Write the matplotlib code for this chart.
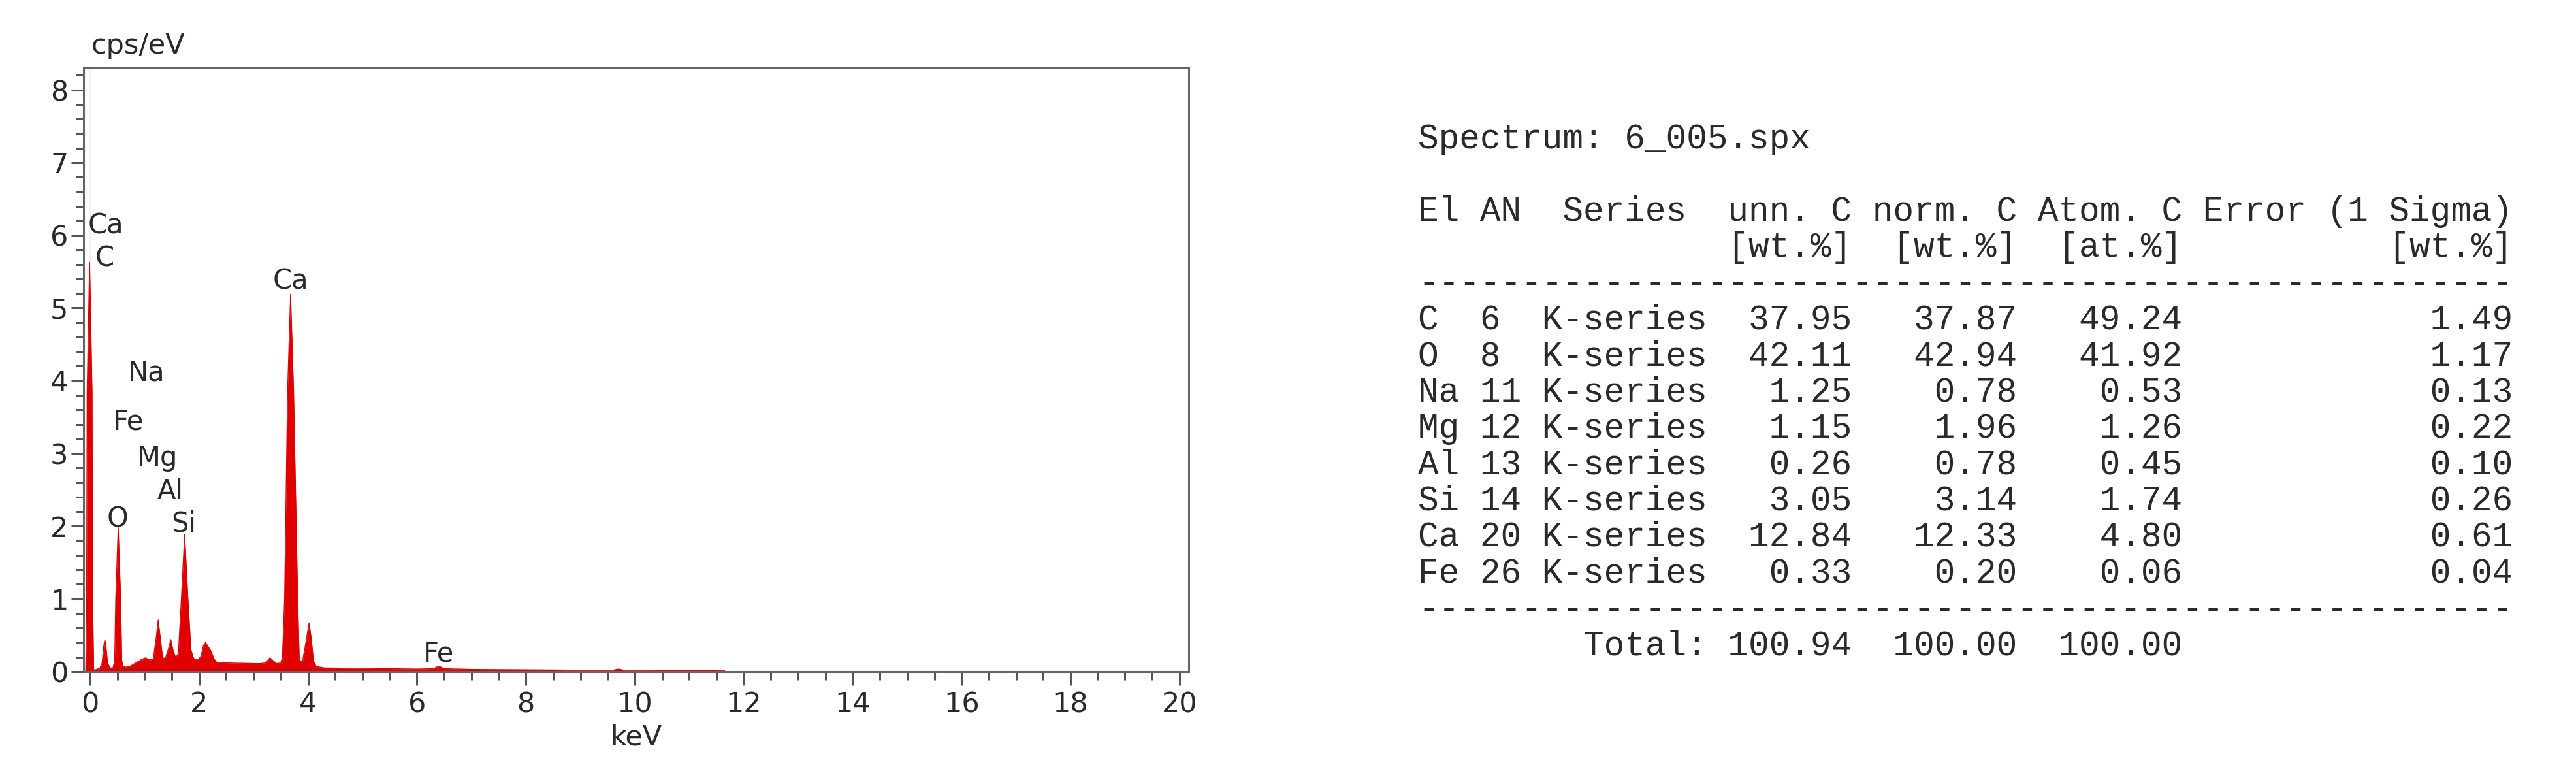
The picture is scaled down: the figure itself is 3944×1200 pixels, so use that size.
import matplotlib
matplotlib.use("Agg")
import matplotlib.pyplot as plt
from matplotlib.ticker import MultipleLocator

# spectrum vertices (keV, cps/eV)
energy = [-0.12, -0.08, -0.065, -0.055, -0.01, 0.035, 0.045, 0.065, 0.12, 0.18, 0.22, 0.25,
          0.27, 0.29, 0.32, 0.36, 0.42, 0.45, 0.47, 0.515, 0.56, 0.58, 0.61, 0.66, 0.75, 0.86,
          0.95, 1.02, 1.06, 1.10, 1.16, 1.21, 1.25, 1.29, 1.33, 1.38, 1.44, 1.48, 1.52, 1.57,
          1.62, 1.675, 1.735, 1.795, 1.85, 1.90, 1.98, 2.04, 2.08, 2.12, 2.17, 2.22, 2.27, 2.32,
          2.5, 2.8, 3.1, 3.22, 3.30, 3.36, 3.42, 3.50, 3.53, 3.57, 3.625, 3.68, 3.735, 3.81,
          3.84, 3.90, 3.96, 4.02, 4.06, 4.10, 4.15, 4.3, 5.0, 6.0, 6.3, 6.4, 6.5, 7.0, 8.0,
          9.0, 9.6, 9.7, 9.8, 10.5, 11.0, 11.65]
counts = [0.0, 0.0, 1.0, 3.85, 5.63, 3.85, 1.0, 0.02, 0.03, 0.05, 0.12, 0.35,
          0.44, 0.35, 0.12, 0.05, 0.05, 0.15, 1.0, 1.99, 1.0, 0.15, 0.07, 0.06, 0.08, 0.13,
          0.17, 0.19, 0.17, 0.16, 0.18, 0.45, 0.71, 0.45, 0.19, 0.18, 0.32, 0.44, 0.30, 0.19,
          0.25, 1.0, 1.89, 1.0, 0.30, 0.18, 0.16, 0.22, 0.36, 0.40, 0.34, 0.28, 0.18, 0.13,
          0.12, 0.115, 0.11, 0.12, 0.19, 0.15, 0.11, 0.12, 0.2, 1.0, 3.85, 5.19, 3.85, 1.0,
          0.15, 0.14, 0.40, 0.67, 0.45, 0.15, 0.07, 0.05, 0.045, 0.035, 0.04, 0.075, 0.04, 0.03, 0.025,
          0.02, 0.02, 0.035, 0.02, 0.015, 0.015, 0.01]

# peak labels (text, keV, baseline height)
label_text = ["Ca", "C", "Na", "Fe", "Mg", "Al", "O", "Si", "Ca", "Fe"]
label_x = [0.29, 0.27, 1.03, 0.70, 1.24, 1.47, 0.51, 1.72, 3.68, 6.40]
label_y = [6.02, 5.57, 4.00, 3.33, 2.83, 2.37, 1.99, 1.93, 5.26, 0.14]

# quantification table
spectrum_name = "6_005.spx"
elements = ["C", "O", "Na", "Mg", "Al", "Si", "Ca", "Fe"]
atomic_numbers = [6, 8, 11, 12, 13, 14, 20, 26]
series = ["K-series"] * 8
unn_c = [37.95, 42.11, 1.25, 1.15, 0.26, 3.05, 12.84, 0.33]
norm_c = [37.87, 42.94, 0.78, 1.96, 0.78, 3.14, 12.33, 0.20]
atom_c = [49.24, 41.92, 0.53, 1.26, 0.45, 1.74, 4.80, 0.06]
error_1s = [1.49, 1.17, 0.13, 0.22, 0.10, 0.26, 0.61, 0.04]
totals = [100.94, 100.00, 100.00]

W, H = 3944, 1200
fig = plt.figure(figsize=(W / 100, H / 100), dpi=100)
ax = fig.add_axes([128 / W, 1 - 1028 / H, (1820 - 128) / W, (1028 - 103) / H])

ax.axvline(0, color="#ffe4f4", lw=1.2, zorder=1)
ax.fill_between(energy, counts, 0, color="#e00000", lw=0, zorder=2)
ax.plot(energy, counts, color="#e00000", lw=1.0, zorder=2)

for t, x, y in zip(label_text, label_x, label_y):
    ax.text(x, y, t, ha="center", va="baseline", fontsize=30, color="#2a2a2a")

ax.set_xlim(-0.12, 20.17)
ax.set_ylim(0, 8.31)
ax.xaxis.set_major_locator(MultipleLocator(2))
ax.xaxis.set_minor_locator(MultipleLocator(0.5))
ax.yaxis.set_major_locator(MultipleLocator(1))
ax.yaxis.set_minor_locator(MultipleLocator(0.2))
ax.tick_params(axis="both", which="both", direction="out", color="#555555", width=2.2,
               labelsize=31, labelcolor="#2a2a2a")
ax.tick_params(axis="x", which="major", length=15, pad=6)
ax.tick_params(axis="x", which="minor", length=9)
ax.tick_params(axis="y", which="major", length=14, pad=3)
ax.tick_params(axis="y", which="minor", length=9)
ax.tick_params(top=False, right=False)
for s in ax.spines.values():
    s.set_color("#666666")
    s.set_linewidth(2.2)
ax.set_xlabel("keV", fontsize=31, color="#2a2a2a", labelpad=6)
fig.text(140 / W, 1 - 82 / H, "cps/eV", fontsize=31, color="#2a2a2a", ha="left", va="baseline")

# text block on the right
lines = ["Spectrum: " + spectrum_name,
         "",
         "El AN  Series  unn. C norm. C Atom. C Error (1 Sigma)",
         " " * 15 + "[wt.%]  [wt.%]  [at.%]" + " " * 10 + "[wt.%]",
         "-" * 53]
for el, an, se, u, n, a, e in zip(elements, atomic_numbers, series, unn_c, norm_c, atom_c, error_1s):
    lines.append(f"{el:<2} {an:<2} {se}{u:7.2f}{n:8.2f}{a:8.2f}{e:16.2f}")
lines.append("-" * 53)
lines.append(" " * 8 + "Total:" + f"{totals[0]:7.2f}{totals[1]:8.2f}{totals[2]:8.2f}")

base0 = 227
step = 55.36
for i, line in enumerate(lines):
    if line:
        fig.text(2171 / W, 1 - (base0 + i * step) / H, line, family="Liberation Mono",
                 fontsize=38, color="#2a2a2a", ha="left", va="baseline")

fig.savefig("out.png", dpi=100)
